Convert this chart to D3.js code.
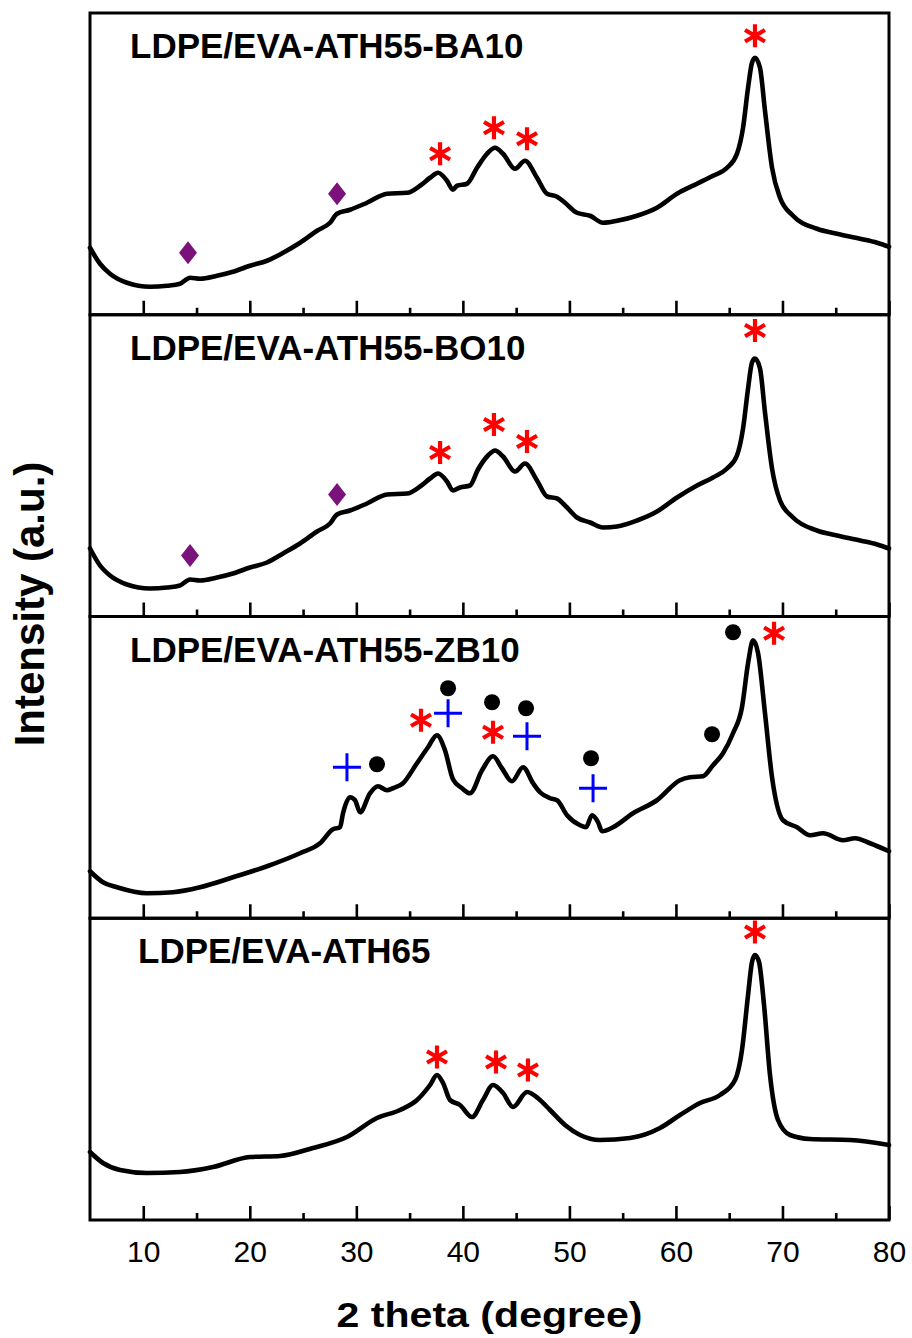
<!DOCTYPE html>
<html>
<head>
<meta charset="utf-8">
<script src="https://cdn.jsdelivr.net/npm/d3@7"></script>
<style>
  html, body { margin: 0; padding: 0; background: #fff; }
  svg { display: block; }
  text { font-family: "Liberation Sans", Arial, Helvetica, sans-serif; }
</style>
</head>
<body>
<svg id="chart" width="912" height="1338"></svg>
<script>
// XRD patterns, 2θ (degree) vs intensity (a.u.), one stacked panel per sample
const sampleNames = [
  "LDPE/EVA-ATH55-BA10",
  "LDPE/EVA-ATH55-BO10",
  "LDPE/EVA-ATH55-ZB10",
  "LDPE/EVA-ATH65"
];

const ba10 = [
  [5.0,67],[5.94,51],[6.88,41],[8.47,32],[10.63,28],[12.23,29],[13.45,31],[14.39,37],[15.33,36],
  [16.92,39],[18.42,43],[20.02,49],[21.62,54],[23.12,62],[24.71,72],[26.31,84],[27.53,92],[28.19,101],
  [29.41,105],[31.0,112],[32.88,121],[34.76,122],[35.98,129],[36.92,137],[37.67,142],[38.51,134],
  [39.07,125],[39.45,129],[40.39,131],[41.33,147],[42.27,161],[43.02,167],[43.77,161],[44.9,146],
  [45.83,154],[46.96,137],[47.9,121],[48.84,118],[49.59,112],[50.71,102],[51.94,99],[53.16,92],
  [54.47,94],[56.35,99],[58.22,107],[60.1,121],[61.98,131],[63.48,139],[64.8,147],[65.73,161],
  [66.3,187],[66.77,227],[67.14,252],[67.42,257],[67.89,247],[68.36,204],[69.02,147],[69.77,117],
  [70.99,99],[73.24,86],[75.12,81],[77.28,76],[78.88,72],[80.0,68]
];

const bo10 = [
  [5.0,68],[5.94,51],[6.88,41],[8.47,32],[10.63,28],[12.23,29],[13.45,31],[14.39,37],[15.33,36],
  [16.92,39],[18.42,43],[20.02,49],[21.62,54],[23.12,63],[24.71,73],[26.31,85],[27.53,93],[28.19,102],
  [29.41,106],[31.0,113],[32.88,122],[34.76,123],[35.98,130],[36.92,138],[37.67,143],[38.51,135],
  [39.07,126],[39.73,129],[40.67,131],[41.42,147],[42.36,161],[43.02,166],[43.77,160],[44.9,145],
  [45.83,153],[46.96,136],[47.9,120],[48.84,118],[49.59,111],[50.71,99],[51.94,94],[53.16,89],
  [54.47,90],[56.35,96],[58.22,105],[60.1,119],[61.98,131],[63.48,139],[64.8,148],[65.73,161],
  [66.3,188],[66.77,228],[67.14,254],[67.42,258],[67.89,248],[68.36,204],[69.02,148],[69.77,116],
  [70.99,99],[73.24,86],[75.12,81],[77.28,76],[78.88,72],[80.0,68]
];

const zb10 = [
  [5.0,47],[6.22,36],[7.53,31],[10.35,25],[12.79,26],[15.33,31],[18.42,41],[21.62,52],[24.71,65],
  [26.59,75],[27.81,89],[28.47,91],[28.75,105],[29.41,121],[29.88,118],[30.35,106],[31.28,125],
  [32.03,132],[32.88,128],[33.44,130],[34.38,135],[35.69,155],[36.73,171],[37.57,183],[38.32,168],
  [39.07,139],[39.92,130],[40.67,125],[41.8,148],[42.83,162],[43.67,150],[44.61,137],[45.65,151],
  [46.59,135],[47.24,126],[48.18,120],[48.84,118],[49.78,103],[51.0,93],[51.56,91],[52.12,103],
  [52.69,96],[53.06,87],[54.09,91],[55.97,105],[58.22,118],[60.38,138],[61.32,141],[62.54,142],
  [63.48,153],[64.42,165],[65.36,185],[66.2,211],[66.77,255],[67.24,278],[67.71,265],[68.36,205],
  [69.02,141],[70.05,98],[71.37,91],[72.59,83],[73.81,85],[75.69,78],[76.81,80],[78.22,75],[80.0,67]
];

const ath65 = [
  [5.0,68],[6.22,57],[7.82,50],[10.35,47],[13.45,48],[16.55,53],[20.02,63],[22.84,64],[25.93,72],
  [29.12,83],[31.94,102],[34.1,110],[35.7,120],[36.92,135],[37.57,145],[38.14,137],[38.79,120],
  [39.73,115],[40.86,103],[41.89,120],[42.83,135],[43.77,127],[44.71,113],[46.02,128],[47.24,120],
  [48.18,110],[49.59,95],[51.0,85],[52.87,80],[55.69,82],[58.51,92],[60.38,105],[62.26,117],
  [64.14,125],[65.55,140],[66.2,170],[66.77,225],[67.14,258],[67.42,265],[67.8,258],[68.27,215],
  [68.83,145],[69.58,100],[70.71,85],[72.59,81],[76.34,80],[80.0,75]
];

// Phase markers: [symbol, 2θ, intensity level]
const ba10Marks = [
  ["diamond",14.2,62],["diamond",28.19,121],
  ["asterisk",37.86,161],["asterisk",42.92,187],["asterisk",46.02,176],["asterisk",67.42,279]
];
const bo10Marks = [
  ["diamond",14.39,61],["diamond",28.19,122],
  ["asterisk",37.86,164],["asterisk",42.92,192],["asterisk",46.02,175],["asterisk",67.42,286]
];
const zb10Marks = [
  ["plus",29.12,151],["dot",31.94,154],["asterisk",36.07,198],["plus",38.61,205],["dot",38.61,230],
  ["dot",42.74,216],["asterisk",42.83,186],["dot",45.93,210],["plus",46.02,182],["dot",52.03,160],
  ["plus",52.22,130],["dot",63.39,184],["dot",65.36,286],["asterisk",69.21,285]
];
const ath65Marks = [
  ["asterisk",37.57,163],["asterisk",43.11,158],["asterisk",46.11,150],["asterisk",67.42,288]
];

const majorTicks = [10,20,30,40,50,60,70,80];
const minorTicks = [15,25,35,45,55,65,75];

const patterns = [ba10, bo10, zb10, ath65];
const markSets = [ba10Marks, bo10Marks, zb10Marks, ath65Marks];

// ---- layout ----
const plotLeft = 90, plotRight = 889, plotTop = 13, plotBottom = 1220;
const panelH = (plotBottom - plotTop) / 4;
const labelX = [130, 130, 130, 138];

const svg = d3.select("#chart");

const x = d3.scaleLinear().domain([5, 80]).range([plotLeft, plotRight]);

// Custom marker shapes
const shapes = {
  asterisk: {
    draw(ctx, size) {
      const r = Math.sqrt(size);
      const t = r / 2, u = t * Math.sqrt(3);
      ctx.moveTo(0, -r); ctx.lineTo(0, r);
      ctx.moveTo(-u, -t); ctx.lineTo(u, t);
      ctx.moveTo(-u, t); ctx.lineTo(u, -t);
    }
  },
  plus: {
    draw(ctx, size) {
      const r = Math.sqrt(size);
      ctx.moveTo(-r, 0); ctx.lineTo(r, 0);
      ctx.moveTo(0, -r); ctx.lineTo(0, r);
    }
  },
  diamond: {
    draw(ctx, size) {
      const w = Math.sqrt(size), h = w * 1.27;
      ctx.moveTo(0, -h); ctx.lineTo(w, 0); ctx.lineTo(0, h); ctx.lineTo(-w, 0); ctx.closePath();
    }
  },
  dot: {
    draw(ctx, size) {
      const r = Math.sqrt(size);
      ctx.moveTo(r, 0); ctx.arc(0, 0, r, 0, 2 * Math.PI);
    }
  }
};
const markStyle = {
  asterisk: { size: 11.5 * 11.5, fill: "none", stroke: "#ff0000", sw: 4.2 },
  plus:     { size: 14 * 14, fill: "none", stroke: "#0000ff", sw: 3 },
  diamond:  { size: 9 * 9, fill: "#7b127b", stroke: "none", sw: 0 },
  dot:      { size: 8 * 8, fill: "#000000", stroke: "none", sw: 0 }
};

patterns.forEach((data, i) => {
  const y0 = plotTop + i * panelH;
  const y1 = y0 + panelH;
  const y = d3.scaleLinear().domain([0, panelH]).range([y1, y0]);
  const g = svg.append("g");

  // inward ticks along the lower edge of each panel
  const major = d3.axisBottom(x).tickValues(majorTicks).tickSize(-14)
    .tickPadding(20.5).tickFormat(i === 3 ? d3.format("d") : () => "");
  const minor = d3.axisBottom(x).tickValues(minorTicks).tickSize(-7).tickFormat(() => "");

  const ga = g.append("g").attr("transform", `translate(0,${y1})`).call(major);
  const gm = g.append("g").attr("transform", `translate(0,${y1})`).call(minor);
  [ga, gm].forEach(a => {
    a.select(".domain").remove();
    a.selectAll(".tick line").attr("stroke", "#000").attr("stroke-width", 2.6);
  });
  ga.selectAll(".tick text")
    .attr("font-size", 30).attr("fill", "#000")
    .style("font-family", '"Liberation Sans", Arial, sans-serif');

  // the XRD trace
  const line = d3.line()
    .x(d => x(d[0])).y(d => y(d[1]))
    .curve(d3.curveMonotoneX);
  g.append("path").datum(data)
    .attr("d", line)
    .attr("fill", "none").attr("stroke", "#000")
    .attr("stroke-width", 4.6).attr("stroke-linejoin", "round").attr("stroke-linecap", "round");

  // phase markers
  g.selectAll(".mark").data(markSets[i]).join("path")
    .attr("class", "mark")
    .attr("transform", d => `translate(${x(d[1])},${y(d[2])})`)
    .attr("d", d => d3.symbol(shapes[d[0]], markStyle[d[0]].size)())
    .attr("fill", d => markStyle[d[0]].fill)
    .attr("stroke", d => markStyle[d[0]].stroke)
    .attr("stroke-width", d => markStyle[d[0]].sw);

  // panel frame
  g.append("rect")
    .attr("x", plotLeft).attr("y", y0).attr("width", plotRight - plotLeft).attr("height", panelH)
    .attr("fill", "none").attr("stroke", "#000").attr("stroke-width", 3);

  // sample name
  g.append("text")
    .attr("x", labelX[i]).attr("y", y0 + 45)
    .attr("font-size", 35).attr("font-weight", "bold").attr("fill", "#000")
    .text(sampleNames[i]);
});

// axis titles
svg.append("text")
  .attr("x", (plotLeft + plotRight) / 2).attr("y", 1327)
  .attr("text-anchor", "middle")
  .attr("font-size", 35).attr("font-weight", "bold")
  .attr("textLength", 306).attr("lengthAdjust", "spacingAndGlyphs")
  .text("2 theta (degree)");

svg.append("text")
  .attr("transform", "translate(44,604) rotate(-90)")
  .attr("text-anchor", "middle")
  .attr("font-size", 42).attr("font-weight", "bold")
  .text("Intensity (a.u.)");
</script>
</body>
</html>
